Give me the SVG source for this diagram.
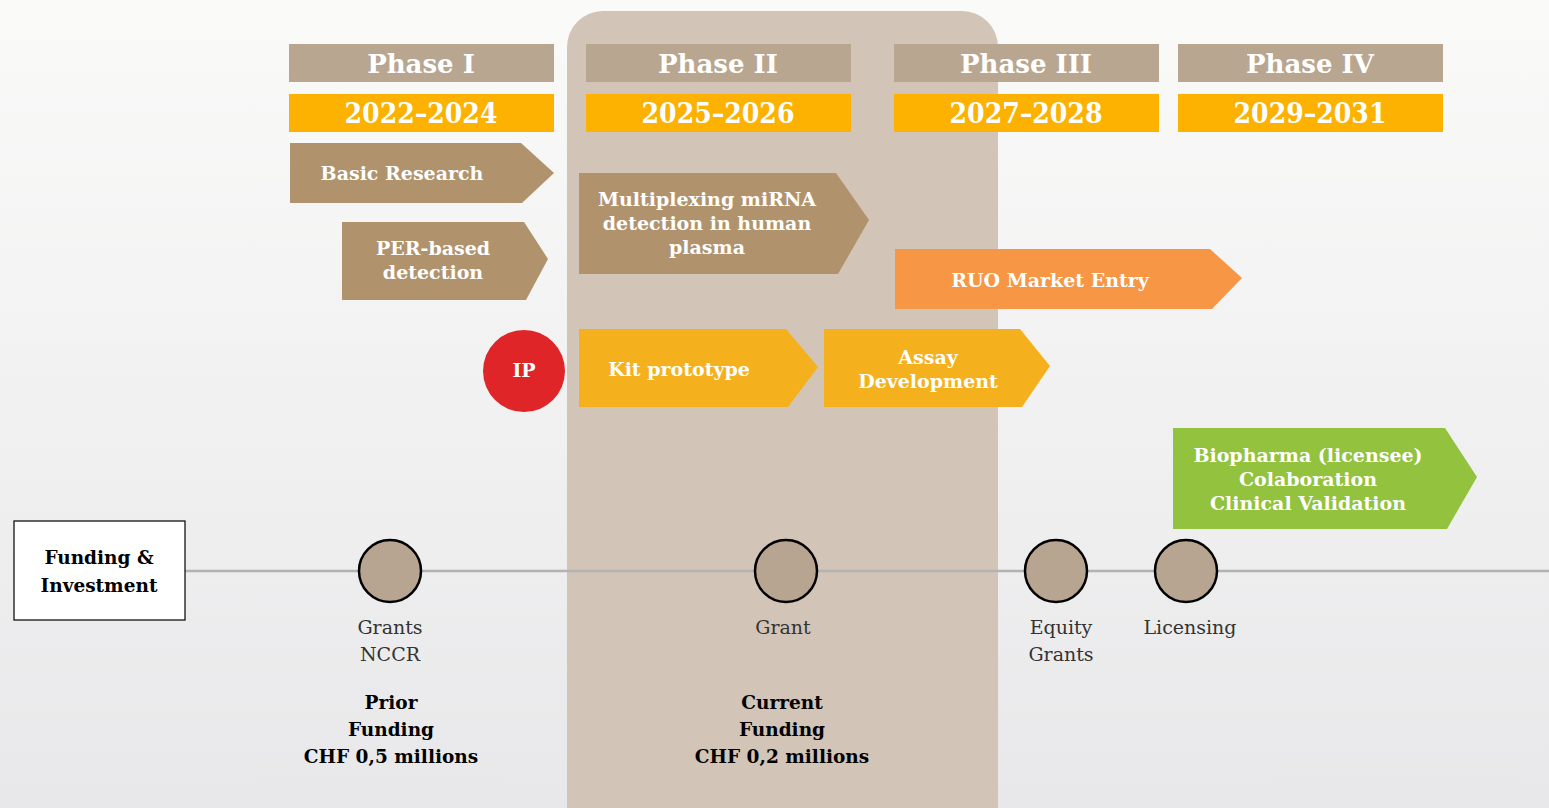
<svg xmlns="http://www.w3.org/2000/svg" width="1549" height="808" viewBox="0 0 1549 808">
  <defs>
    <linearGradient id="bg" x1="0" y1="0" x2="0" y2="1">
      <stop offset="0" stop-color="#fafaf9"/>
      <stop offset="1" stop-color="#e8e8ea"/>
    </linearGradient>
  </defs>
  <style>
    text { font-family: "DejaVu Serif", serif; text-anchor: middle; }
    .phase { fill: #b8a691; }
    .phase-t { fill: #ffffff; font-weight: bold; font-size: 26px; }
    .year { fill: #fdb100; }
    .year-t { font-family: "DejaVu Serif Condensed", "DejaVu Serif", serif; fill: #ffffff; font-weight: bold; font-size: 28px; }
    .lbl { fill: #ffffff; font-weight: bold; font-size: 19px; }
    .brown { fill: #b0936d; }
    .yellow { fill: #f4b11d; }
    .orange { fill: #f79645; }
    .green { fill: #92c23e; }
    .dot { fill: #b8a591; stroke: #000000; stroke-width: 2.5; }
    .src { fill: #333333; font-size: 19px; font-weight: normal; }
    .sum { fill: #000000; font-size: 18.5px; font-weight: bold; }
  </style>

  <rect width="1549" height="808" fill="url(#bg)"/>

  <!-- current phase highlight -->
  <rect id="current-band" x="567" y="11" width="431" height="830" rx="36" fill="#d2c4b6"/>

  <!-- phase headers -->
  <g id="phase-1">
    <rect class="phase" x="289" y="44" width="265" height="38"/>
    <text class="phase-t" x="421" y="73">Phase I</text>
    <rect class="year" x="289" y="94" width="265" height="38"/>
    <text class="year-t" x="421" y="123">2022–2024</text>
  </g>
  <g id="phase-2">
    <rect class="phase" x="586" y="44" width="265" height="38"/>
    <text class="phase-t" x="718" y="73">Phase II</text>
    <rect class="year" x="586" y="94" width="265" height="38"/>
    <text class="year-t" x="718" y="123">2025–2026</text>
  </g>
  <g id="phase-3">
    <rect class="phase" x="894" y="44" width="265" height="38"/>
    <text class="phase-t" x="1026" y="73">Phase III</text>
    <rect class="year" x="894" y="94" width="265" height="38"/>
    <text class="year-t" x="1026" y="123">2027–2028</text>
  </g>
  <g id="phase-4">
    <rect class="phase" x="1178" y="44" width="265" height="38"/>
    <text class="phase-t" x="1310" y="73">Phase IV</text>
    <rect class="year" x="1178" y="94" width="265" height="38"/>
    <text class="year-t" x="1310" y="123">2029–2031</text>
  </g>

  <!-- activity chevrons -->
  <g id="basic-research">
    <polygon class="brown" points="290,143 521,143 554,173 522,203 290,203"/>
    <text class="lbl" x="402" y="180">Basic Research</text>
  </g>
  <g id="per-detection">
    <polygon class="brown" points="342,222 524,222 548,259 526,300 342,300"/>
    <text class="lbl" x="433" y="255">PER-based</text>
    <text class="lbl" x="433" y="279">detection</text>
  </g>
  <g id="multiplexing">
    <polygon class="brown" points="579,173 836,173 869,220 838,274 579,274"/>
    <text class="lbl" x="707" y="206">Multiplexing miRNA</text>
    <text class="lbl" x="707" y="230">detection in human</text>
    <text class="lbl" x="707" y="254">plasma</text>
  </g>
  <g id="ruo-entry">
    <polygon class="orange" points="895,249 1210,249 1242,278 1212,309 895,309"/>
    <text class="lbl" x="1050" y="287">RUO Market Entry</text>
  </g>
  <g id="ip">
    <circle cx="524" cy="371" r="41" fill="#e02528"/>
    <text class="lbl" x="524" y="377">IP</text>
  </g>
  <g id="kit-prototype">
    <polygon class="yellow" points="579,329 786,329 818,367 788,407 579,407"/>
    <text class="lbl" x="679" y="376">Kit prototype</text>
  </g>
  <g id="assay-development">
    <polygon class="yellow" points="824,329 1020,329 1050,366 1022,407 824,407"/>
    <text class="lbl" x="928" y="364">Assay</text>
    <text class="lbl" x="928" y="388">Development</text>
  </g>
  <g id="biopharma">
    <polygon class="green" points="1173,428 1445,428 1477,477 1447,529 1173,529"/>
    <text class="lbl" x="1308" y="462">Biopharma (licensee)</text>
    <text class="lbl" x="1308" y="486">Colaboration</text>
    <text class="lbl" x="1308" y="510">Clinical Validation</text>
  </g>

  <!-- funding timeline -->
  <g id="connectors">
    <line x1="185" y1="571" x2="1549" y2="571" stroke="#b3b3b3" stroke-width="2.5"/>
  </g>

  <g id="funding-box">
    <rect x="14" y="521" width="171" height="99" fill="#ffffff" stroke="#000000" stroke-width="1.2"/>
    <text class="sum" x="99" y="564">Funding &amp;</text>
    <text class="sum" x="99" y="592">Investment</text>
  </g>

  <g id="grants-nccr">
    <circle class="dot" cx="390" cy="571" r="31"/>
    <text class="src" x="390" y="634">Grants</text>
    <text class="src" x="390" y="661">NCCR</text>
  </g>
  <g id="prior-funding">
    <text class="sum" x="391" y="709">Prior</text>
    <text class="sum" x="391" y="736">Funding</text>
    <text class="sum" x="391" y="763">CHF 0,5 millions</text>
  </g>
  <g id="grant">
    <circle class="dot" cx="786" cy="571" r="31"/>
    <text class="src" x="783" y="634">Grant</text>
  </g>
  <g id="current-funding">
    <text class="sum" x="782" y="709">Current</text>
    <text class="sum" x="782" y="736">Funding</text>
    <text class="sum" x="782" y="763">CHF 0,2 millions</text>
  </g>
  <g id="equity-grants">
    <circle class="dot" cx="1056" cy="571" r="31"/>
    <text class="src" x="1061" y="634">Equity</text>
    <text class="src" x="1061" y="661">Grants</text>
  </g>
  <g id="licensing">
    <circle class="dot" cx="1186" cy="571" r="31"/>
    <text class="src" x="1190" y="634">Licensing</text>
  </g>
</svg>
